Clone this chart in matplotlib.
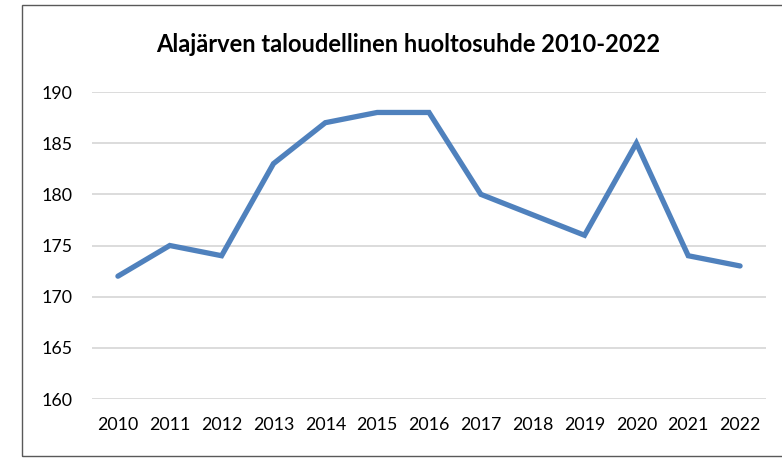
import matplotlib
matplotlib.use('Agg')
import matplotlib.pyplot as plt
from matplotlib.patches import Rectangle

# Data
years = ['2010', '2011', '2012', '2013', '2014', '2015', '2016',
         '2017', '2018', '2019', '2020', '2021', '2022']
ratio = [172, 175, 174, 183, 187, 188, 188, 180, 178, 176, 185, 174, 173]
y_ticks = [160, 165, 170, 175, 180, 185, 190]

title = 'Alajärven taloudellinen huoltosuhde 2010-2022'

plt.rcParams['font.family'] = ['Lato', 'DejaVu Sans']

fig = plt.figure(figsize=(7.82, 4.61), dpi=100)
fig.patch.set_facecolor('white')

ax = fig.add_axes([92/782, 62/461, 674/782, 307/461])

x = list(range(len(years)))
ax.plot(x, ratio, color='#4F81BD', linewidth=3.8, solid_capstyle='round',
        solid_joinstyle='miter', zorder=3)

ax.set_xlim(-0.5, len(years) - 0.5)
ax.set_ylim(160, 190)
ax.set_xticks(x)
ax.set_xticklabels(years)
ax.set_yticks(y_ticks)

ax.grid(axis='y', color='#D9D9D9', linewidth=1.3)
ax.set_axisbelow(True)
for s in ax.spines.values():
    s.set_visible(False)
ax.tick_params(axis='both', length=0, labelsize=12.8, colors='black')
ax.tick_params(axis='y', pad=14)
ax.tick_params(axis='x', pad=13)

fig.text(408/782, (461-45)/461, title, ha='center', va='center',
         fontsize=17, fontweight='bold')

# chart border
fig.patches.append(Rectangle((22/782, 5/461), 1.0, 451/461, transform=fig.transFigure,
                             fill=False, edgecolor='#595959', linewidth=1.0))

fig.savefig('out.png', dpi=100)
